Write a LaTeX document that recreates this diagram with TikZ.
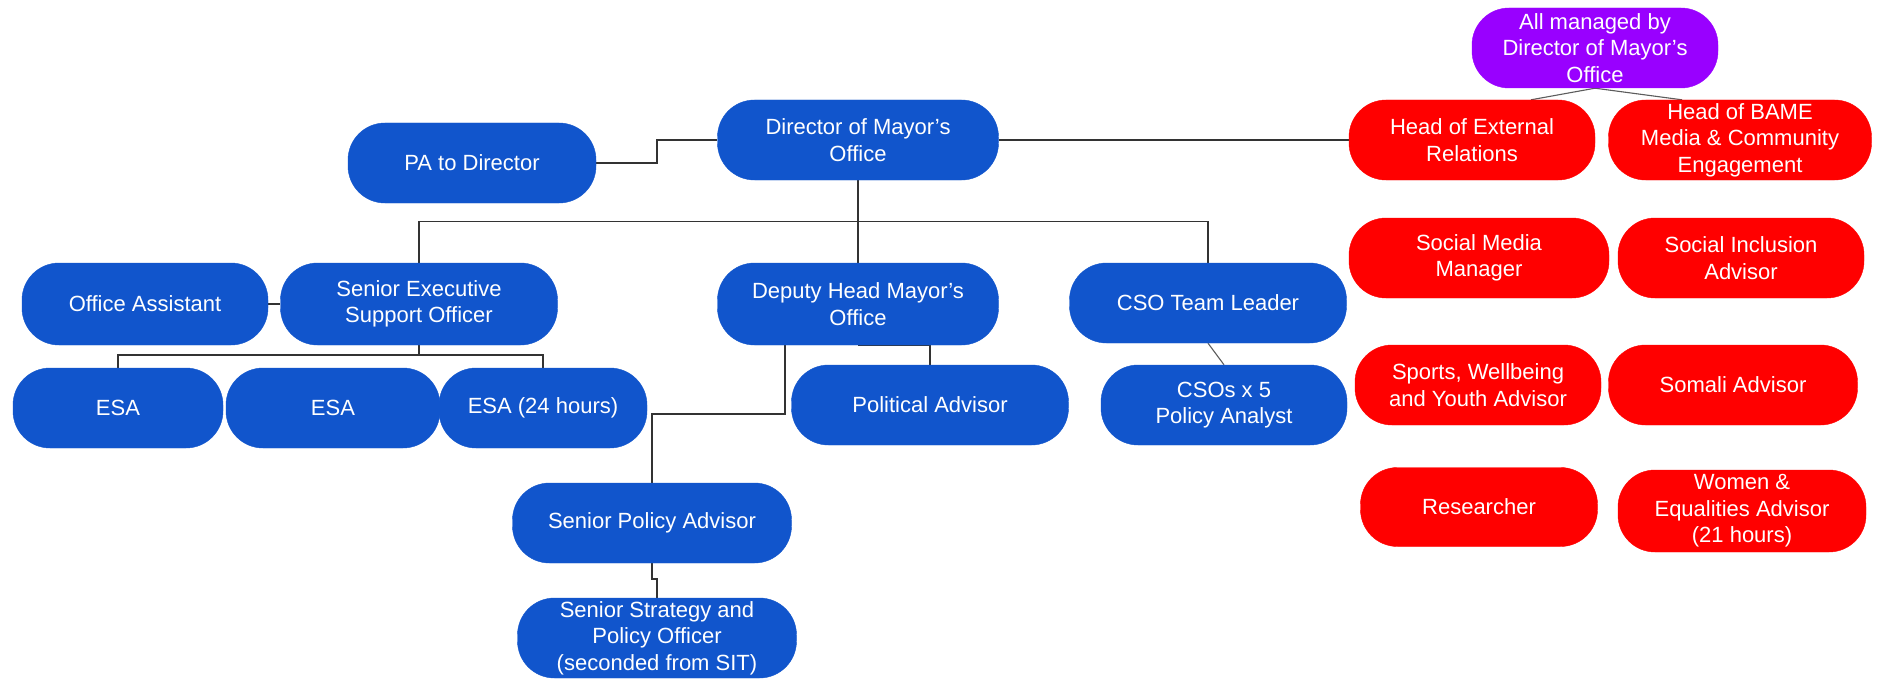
\documentclass[tikz,border=0pt]{standalone}
\usepackage{fontspec}
\setmainfont{Liberation Sans}
\usetikzlibrary{calc,backgrounds}
\definecolor{bl}{HTML}{1155CC}
\definecolor{rd}{HTML}{FF0000}
\definecolor{pu}{HTML}{9900FF}
\definecolor{ln}{HTML}{333333}
\begin{document}
\begin{tikzpicture}[x=1pt,y=-1pt,
  box/.style={rounded corners=37pt, text=white, align=center,
    font=\fontsize{22}{26.5}\selectfont, inner sep=0pt, minimum height=80pt},
  bbox/.style={box, fill=bl, draw=bl},
  rbox/.style={box, fill=rd, draw=rd},
  pbox/.style={box, fill=pu, draw=pu},
  conn/.style={draw=ln, line width=1.8pt},
  thinconn/.style={draw=ln!80, line width=1.1pt}]
\useasboundingbox (0,0) rectangle (1877,682);
% blue nodes
\node[bbox, minimum width=248pt] (pa) at (472,163) {PA to Director};
\node[bbox, minimum width=281pt] (dir) at (858,140) {Director of Mayor’s\\Office};
\node[bbox, minimum width=246pt, minimum height=82pt] (oa) at (145,304) {Office Assistant};
\node[bbox, minimum width=277pt, minimum height=82pt] (seso) at (419,304) {Senior Executive\\Support Officer};
\node[bbox, minimum width=281pt, minimum height=82pt] (dep) at (858,304) {Deputy Head Mayor’s\\Office};
\node[bbox, minimum width=277pt] (cso) at (1208,303) {CSO Team Leader};
\node[bbox, minimum width=210pt] (esa1) at (118,408) {ESA};
\node[bbox, minimum width=214pt] (esa2) at (333,408) {ESA};
\node[bbox, minimum width=208pt] (esa3) at (543,408) {ESA (24 hours)};
\node[bbox, minimum width=277pt] (pol) at (930,405) {Political Advisor};
\node[bbox, minimum width=246pt] (csos) at (1224,405) {CSOs x 5\\Policy Analyst};
\node[bbox, minimum width=279pt] (spa) at (652,523) {Senior Policy Advisor};
\node[bbox, minimum width=279pt] (sso) at (657,638) {Senior Strategy and\\Policy Officer\\(seconded from SIT)};
% purple / red nodes
\node[pbox, minimum width=246pt] (all) at (1595,48) {All managed by\\Director of Mayor’s\\Office};
\node[rbox, minimum width=246pt] (ext) at (1472,140) {Head of External\\Relations};
\node[rbox, minimum width=263pt] (bame) at (1740,140) {Head of BAME\\Media \& Community\\Engagement};
\node[rbox, minimum width=260pt] (smm) at (1479,258) {Social Media\\Manager};
\node[rbox, minimum width=246pt] (sia) at (1741,258) {Social Inclusion\\Advisor};
\node[rbox, minimum width=246pt] (swy) at (1478,385) {Sports, Wellbeing\\and Youth Advisor};
\node[rbox, minimum width=249pt] (som) at (1733,385) {Somali Advisor};
\node[rbox, minimum width=237pt, minimum height=79pt] (res) at (1479,507) {Researcher};
\node[rbox, minimum width=248pt, minimum height=82pt] (wea) at (1742,511) {Women \&\\Equalities Advisor\\(21 hours)};
\begin{scope}[on background layer]
\fill[white] (0,0) rectangle (1877,682);
\draw[conn] (pa.east) -- ++(61,0) |- (dir.west);
\draw[conn] (dir.south) -- (dep.north);
\draw[conn] (seso.north) |- ($(dir.south)!.5!(dep.north)$) -| (cso.north);
\draw[conn] (dir.east) -- (ext.west);
\draw[thinconn] (all.south) -- ([xshift=59pt]ext.north);
\draw[thinconn] (all.south) -- ([xshift=-58pt]bame.north);
\draw[conn] (oa.east) -- (seso.west);
\draw[conn] (seso.south) -- ++(0,10) -| (esa1.north);
\draw[conn] (seso.south) -- ++(0,10) -| (esa3.north);
\draw[conn] (dep.south) -| (pol.north);
\draw[conn] ([xshift=-73pt]dep.south) -- ++(0,69) -| (spa.north);
\draw[conn] (spa.south) -- ++(0,16) -| (sso.north);
\draw[thinconn] (cso.south) -- (csos.north);
\end{scope}
\end{tikzpicture}
\end{document}
